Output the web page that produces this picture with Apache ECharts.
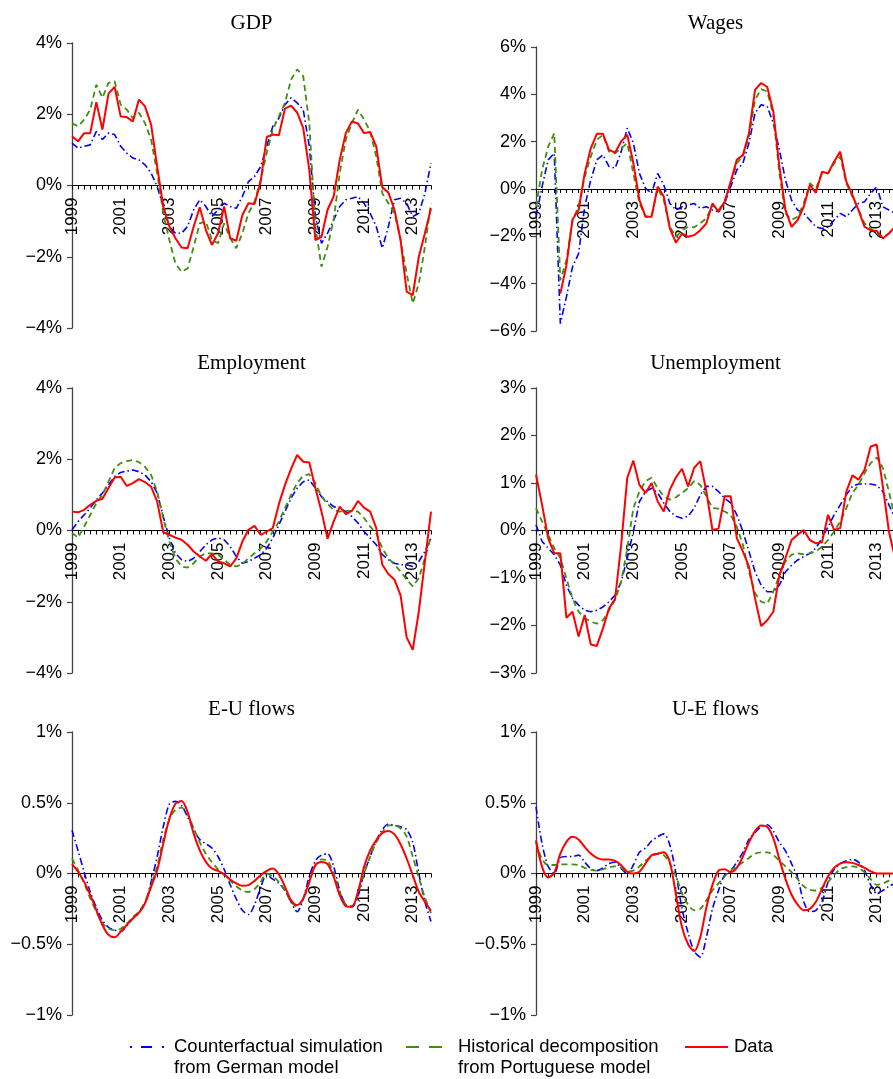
<!DOCTYPE html>
<html>
<head>
<meta charset="utf-8">
<script src="https://cdn.jsdelivr.net/npm/echarts@6/dist/echarts.min.js"></script>
<style>
  html, body { margin: 0; padding: 0; background: #ffffff; }
  #chart { width: 893px; height: 1079px; }
</style>
</head>
<body>
<div id="chart"></div>
<script>
// Quarterly observations, 1999Q1 to 2013Q4
const years = [1999, 2000, 2001, 2002, 2003, 2004, 2005, 2006, 2007, 2008, 2009, 2010, 2011, 2012, 2013];
const quarters = [];
years.forEach(y => ['Q1', 'Q2', 'Q3', 'Q4'].forEach(q => quarters.push(y + q)));

// Y-axis tick values (percent) for each panel
const gdpTicks = [-4, -2, 0, 2, 4];
const wagesTicks = [-6, -4, -2, 0, 2, 4, 6];
const employmentTicks = [-4, -2, 0, 2, 4];
const unemploymentTicks = [-3, -2, -1, 0, 1, 2, 3];
const euTicks = [-1, -0.5, 0, 0.5, 1];
const ueTicks = [-1, -0.5, 0, 0.5, 1];

// GDP
const gdpCounterfactual = [1.19,1.05,1.10,1.14,1.52,1.29,1.47,1.43,1.10,0.91,0.77,0.72,0.58,0.35,-0.03,-0.59,-1.15,-1.34,-1.34,-1.15,-0.68,-0.40,-0.59,-0.87,-0.68,-0.50,-0.59,-0.64,-0.31,0.11,0.25,0.53,1.10,1.66,1.89,2.27,2.46,2.32,2.13,1.10,-0.87,-1.62,-1.34,-0.97,-0.59,-0.40,-0.36,-0.31,-0.50,-0.78,-1.15,-1.76,-1.15,-0.40,-0.36,-0.50,-0.87,-0.78,-0.22,0.63];
const gdpHistorical = [1.75,1.66,1.85,2.13,2.83,2.46,2.88,2.93,2.27,2.13,1.89,2.04,1.75,1.29,0.35,-0.78,-1.53,-2.19,-2.42,-2.33,-1.72,-1.06,-1.01,-1.53,-1.62,-1.06,-1.48,-1.76,-1.34,-0.78,-0.45,0.16,0.91,1.57,1.94,2.32,2.97,3.26,3.07,1.75,-1.15,-2.28,-1.72,-0.97,0.35,1.29,1.75,2.13,1.85,1.52,0.82,-0.22,-0.50,-0.78,-1.53,-2.47,-3.31,-2.75,-1.72,-0.50];
const gdpData = [1.38,1.24,1.47,1.47,2.34,1.57,2.58,2.77,1.94,1.92,1.80,2.41,2.22,1.71,0.53,-0.59,-1.15,-1.48,-1.74,-1.76,-1.15,-0.61,-1.25,-1.67,-1.34,-0.59,-1.48,-1.55,-0.83,-0.50,-0.52,0.10,1.36,1.43,1.41,2.16,2.24,2.05,1.61,0.44,-1.53,-1.44,-0.68,-0.31,0.72,1.47,1.80,1.74,1.47,1.50,1.10,-0.05,-0.20,-0.68,-1.53,-2.98,-3.08,-2.00,-1.34,-0.64];

// Wages
const wagesCounterfactual = [-1.17,0.10,1.23,1.51,-5.69,-4.56,-3.29,-2.73,-0.75,0.38,1.23,1.44,0.95,0.88,1.58,2.57,1.94,0.66,0.03,-0.18,0.66,0.17,-0.61,-0.89,-0.75,-0.68,-0.61,-0.82,-0.75,-0.89,-0.96,-0.61,0.10,0.80,1.09,1.94,3.21,3.56,3.49,2.78,1.65,0.38,-0.47,-0.89,-1.03,-1.31,-1.60,-1.67,-1.60,-1.31,-1.03,-1.17,-0.89,-0.61,-0.54,-0.18,0.10,-0.75,-0.89,-1.03];
const wagesHistorical = [-0.75,0.80,1.79,2.36,-3.86,-3.01,-1.31,-0.75,0.52,1.37,2.08,2.29,1.58,1.51,1.72,1.94,0.66,-0.61,-1.17,-1.14,0.03,-0.47,-1.60,-2.02,-1.74,-1.60,-1.62,-1.45,-1.24,-0.68,-0.89,-0.54,0.24,1.09,1.37,2.22,3.77,4.22,4.12,3.14,0.66,-1.03,-1.31,-1.17,-0.61,0.24,0.03,0.66,0.66,1.09,1.37,0.24,-0.32,-0.89,-1.45,-1.67,-1.88,-2.02,-1.88,-1.60];
const wagesData = [null,null,null,null,-4.42,-3.22,-1.29,-0.89,0.66,1.72,2.33,2.33,1.65,1.54,2.01,2.29,1.09,-0.47,-1.17,-1.17,0.10,-0.32,-1.67,-2.27,-1.88,-2.02,-1.95,-1.74,-1.45,-0.61,-0.96,-0.54,0.31,1.23,1.44,2.36,4.19,4.48,4.31,3.28,0.95,-0.89,-1.60,-1.31,-0.75,0.17,-0.16,0.73,0.66,1.16,1.58,0.31,-0.25,-0.89,-1.60,-1.74,-1.77,-2.09,-1.88,-1.60];

// Employment
const employmentCounterfactual = [0.02,0.25,0.44,0.63,0.86,1.05,1.28,1.51,1.63,1.67,1.70,1.65,1.56,1.37,1.05,0.39,-0.21,-0.64,-0.82,-0.87,-0.78,-0.59,-0.40,-0.26,-0.21,-0.26,-0.45,-0.73,-0.92,-0.87,-0.78,-0.68,-0.50,-0.21,0.16,0.53,0.91,1.19,1.37,1.42,1.19,0.95,0.81,0.67,0.63,0.53,0.39,0.21,-0.03,-0.21,-0.40,-0.68,-0.82,-0.92,-0.96,-0.96,-1.01,-0.87,-0.59,-0.21];
const employmentHistorical = [-0.07,-0.20,0.11,0.44,0.77,1.00,1.37,1.75,1.89,1.95,1.98,1.92,1.79,1.56,1.09,0.35,-0.31,-0.78,-1.01,-1.04,-0.92,-0.73,-0.64,-0.64,-0.68,-0.82,-0.96,-1.01,-0.94,-0.78,-0.64,-0.50,-0.31,-0.03,0.25,0.63,1.00,1.33,1.54,1.58,1.33,0.95,0.74,0.58,0.53,0.55,0.55,0.53,0.35,0.11,-0.07,-0.50,-0.78,-0.96,-1.15,-1.38,-1.57,-1.34,-0.78,-0.17];
const employmentData = [0.53,0.51,0.58,0.72,0.83,0.89,1.19,1.49,1.51,1.25,1.33,1.44,1.36,1.23,0.81,-0.05,-0.12,-0.20,-0.26,-0.40,-0.59,-0.73,-0.85,-0.66,-0.87,-0.92,-1.01,-0.78,-0.31,0.02,0.13,-0.12,-0.03,0.07,0.74,1.28,1.73,2.12,1.93,1.91,1.19,0.53,-0.23,0.25,0.67,0.46,0.55,0.83,0.64,0.53,0.07,-0.96,-1.22,-1.38,-1.82,-3.00,-3.35,-2.27,-0.87,0.53];

// Unemployment
const unemploymentCounterfactual = [0.12,-0.23,-0.37,-0.51,-0.73,-1.15,-1.43,-1.57,-1.68,-1.71,-1.68,-1.61,-1.50,-1.36,-1.08,-0.58,-0.02,0.61,0.82,0.89,0.79,0.58,0.40,0.30,0.26,0.30,0.47,0.75,0.93,0.93,0.82,0.68,0.58,0.33,-0.02,-0.44,-0.87,-1.15,-1.29,-1.29,-1.15,-0.87,-0.73,-0.62,-0.55,-0.48,-0.37,-0.16,0.08,0.33,0.54,0.75,0.93,0.98,0.98,0.98,0.95,0.82,0.54,0.26];
const unemploymentHistorical = [0.47,0.19,-0.09,-0.37,-0.58,-1.01,-1.43,-1.71,-1.84,-1.92,-1.96,-1.89,-1.68,-1.46,-1.08,-0.37,0.47,0.82,1.04,1.11,0.89,0.72,0.65,0.70,0.79,0.89,1.04,0.96,0.72,0.47,0.46,0.40,0.33,0.08,-0.30,-0.87,-1.32,-1.50,-1.54,-1.29,-0.94,-0.65,-0.51,-0.48,-0.50,-0.48,-0.44,-0.34,-0.20,-0.02,0.19,0.47,0.79,0.96,1.21,1.42,1.54,1.32,0.82,0.26];
const unemploymentData = [1.18,0.54,-0.16,-0.48,-0.48,-1.84,-1.71,-2.23,-1.78,-2.40,-2.43,-2.06,-1.64,-1.44,-0.30,1.11,1.47,0.96,0.79,1.00,0.61,0.40,0.86,1.12,1.30,0.93,1.32,1.46,0.82,0.01,0.04,0.72,0.72,-0.16,-0.44,-0.76,-1.43,-2.01,-1.89,-1.71,-0.94,-0.58,-0.20,-0.09,0.01,-0.20,-0.27,-0.25,0.33,0.01,0.05,0.82,1.16,1.07,1.28,1.77,1.81,0.93,-0.02,-0.58];

// Employment-to-unemployment flows
const euCounterfactual = [0.305,0.16,0.01,-0.13,-0.24,-0.33,-0.38,-0.40,-0.41,-0.37,-0.32,-0.28,-0.21,-0.06,0.12,0.33,0.49,0.51,0.48,0.40,0.31,0.24,0.21,0.18,0.12,0.03,-0.08,-0.18,-0.26,-0.29,-0.22,-0.10,-0.01,-0.04,-0.07,-0.12,-0.20,-0.27,-0.18,-0.02,0.09,0.13,0.14,0.05,-0.12,-0.22,-0.235,-0.16,0.0,0.12,0.23,0.31,0.35,0.34,0.33,0.31,0.22,0.0,-0.20,-0.34];
const euHistorical = [0.106,0.023,-0.07,-0.176,-0.27,-0.35,-0.39,-0.40,-0.39,-0.355,-0.31,-0.27,-0.20,-0.08,0.05,0.24,0.38,0.45,0.465,0.42,0.32,0.22,0.14,0.08,0.03,-0.01,-0.05,-0.09,-0.12,-0.13,-0.11,-0.06,0.0,-0.02,-0.06,-0.12,-0.20,-0.235,-0.18,-0.06,0.06,0.10,0.09,0.0,-0.13,-0.22,-0.23,-0.14,0.0,0.12,0.22,0.29,0.34,0.34,0.32,0.26,0.12,-0.03,-0.17,-0.28];
const euData = [0.066,0.012,-0.059,-0.153,-0.258,-0.364,-0.434,-0.451,-0.411,-0.364,-0.317,-0.277,-0.211,-0.094,0.023,0.211,0.387,0.493,0.512,0.434,0.282,0.164,0.082,0.035,0.019,-0.005,-0.042,-0.070,-0.087,-0.082,-0.052,-0.012,0.019,0.035,-0.005,-0.094,-0.188,-0.223,-0.176,-0.059,0.059,0.082,0.066,-0.023,-0.153,-0.230,-0.235,-0.129,0.047,0.164,0.235,0.286,0.300,0.277,0.207,0.106,-0.012,-0.129,-0.200,-0.263];

// Unemployment-to-employment flows
const ueCounterfactual = [0.47,0.21,0.05,0.0,0.11,0.12,0.12,0.13,0.08,0.035,0.02,0.04,0.07,0.08,0.035,0.0,0.06,0.15,0.18,0.23,0.26,0.28,0.20,0.0,-0.25,-0.42,-0.55,-0.59,-0.45,-0.25,-0.12,-0.01,0.02,0.08,0.15,0.24,0.29,0.33,0.345,0.30,0.22,0.16,0.07,-0.03,-0.20,-0.27,-0.26,-0.20,-0.06,0.03,0.07,0.09,0.10,0.08,0.02,-0.08,-0.14,-0.12,-0.09,-0.07];
const ueHistorical = [0.22,0.10,0.06,0.06,0.065,0.065,0.065,0.06,0.04,0.025,0.02,0.03,0.045,0.05,0.04,0.015,0.02,0.05,0.09,0.12,0.14,0.13,0.07,-0.02,-0.14,-0.22,-0.26,-0.25,-0.19,-0.12,-0.07,-0.02,0.02,0.05,0.08,0.11,0.14,0.15,0.15,0.13,0.09,0.05,0.01,-0.04,-0.09,-0.115,-0.12,-0.10,-0.06,-0.01,0.03,0.045,0.05,0.04,0.01,-0.04,-0.08,-0.07,-0.05,-0.035];
const ueData = [0.235,0.047,-0.028,0.005,0.14,0.224,0.259,0.24,0.188,0.141,0.111,0.099,0.099,0.089,0.059,0.012,0.0,0.012,0.071,0.129,0.14,0.15,0.08,-0.15,-0.38,-0.50,-0.55,-0.45,-0.24,-0.08,0.02,0.03,0.01,0.04,0.12,0.22,0.30,0.34,0.33,0.25,0.10,-0.04,-0.15,-0.22,-0.26,-0.25,-0.20,-0.11,-0.02,0.04,0.07,0.08,0.075,0.06,0.04,0.015,0.0,0.0,0.0,0.0];

const seriesNames = [
  'Counterfactual simulation from German model',
  'Historical decomposition from Portuguese model',
  'Data'
];

const panels = [
  { title: 'GDP',          ticks: gdpTicks,          lines: [gdpCounterfactual, gdpHistorical, gdpData],                            smooth: false },
  { title: 'Wages',        ticks: wagesTicks,        lines: [wagesCounterfactual, wagesHistorical, wagesData],                      smooth: false },
  { title: 'Employment',   ticks: employmentTicks,   lines: [employmentCounterfactual, employmentHistorical, employmentData],       smooth: false },
  { title: 'Unemployment', ticks: unemploymentTicks, lines: [unemploymentCounterfactual, unemploymentHistorical, unemploymentData], smooth: false },
  { title: 'E-U flows',    ticks: euTicks,           lines: [euCounterfactual, euHistorical, euData],                               smooth: 0.3 },
  { title: 'U-E flows',    ticks: ueTicks,           lines: [ueCounterfactual, ueHistorical, ueData],                               smooth: 0.3 }
];

// Panel placement (pixels)
const PLOT_W = 359;
const layouts = [
  { left: 72,  top: 43,  height: 285, titleY: 23 },
  { left: 536, top: 47,  height: 284, titleY: 23 },
  { left: 72,  top: 388, height: 285, titleY: 363 },
  { left: 536, top: 388, height: 285, titleY: 363 },
  { left: 72,  top: 732, height: 283, titleY: 709 },
  { left: 536, top: 732, height: 283, titleY: 709 }
];

const BLUE = '#0000ff';
const GREEN = '#3f8f0f';
const RED = '#ff0000';
const SANS = '"Liberation Sans", Arial, Helvetica, sans-serif';
const SERIF = '"Liberation Serif", "Times New Roman", serif';

const lineStyles = [
  { color: BLUE,  width: 1.6, type: [7, 3, 1.5, 3] },
  { color: GREEN, width: 1.8, type: [6, 4] },
  { color: RED,   width: 2.0, type: 'solid' }
];

const pct = v => (v < 0 ? '\u2212' : '') + Math.abs(v) + '%';

const grid = [], xAxis = [], yAxis = [], series = [], graphic = [];

panels.forEach((p, k) => {
  const L = layouts[k];
  const yMin = p.ticks[0], yMax = p.ticks[p.ticks.length - 1];
  // lift the time axis (line, ticks and year labels) from the grid bottom up to the 0% level
  const zeroLift = (0 - yMin) / (yMax - yMin) * L.height;
  grid.push({ left: L.left, top: L.top, width: PLOT_W, height: L.height, containLabel: false, outerBoundsMode: 'none' });
  xAxis.push({
    type: 'category', gridIndex: k, data: quarters, boundaryGap: false,
    position: 'bottom', offset: -zeroLift,
    axisLine: { onZero: false, lineStyle: { color: '#000', width: 1.2 } },
    axisTick: { show: true, interval: 0, length: 4, lineStyle: { color: '#000', width: 1 } },
    axisLabel: {
      interval: 7, rotate: 90, margin: 12, fontSize: 17, fontFamily: SANS, color: '#000',
      formatter: v => v.slice(0, 4)
    },
    splitLine: { show: false }
  });
  yAxis.push({
    type: 'value', gridIndex: k,
    min: yMin, max: yMax, interval: p.ticks[1] - p.ticks[0],
    axisLine: { show: true, onZero: false, lineStyle: { color: '#444', width: 1.3 } },
    axisTick: { show: true, length: 5, lineStyle: { color: '#444', width: 1.2 } },
    axisLabel: { margin: 10, fontSize: 18, fontFamily: SANS, color: '#000', formatter: pct },
    splitLine: { show: false }
  });
  p.lines.forEach((vals, s) => {
    series.push({
      name: seriesNames[s], type: 'line', xAxisIndex: k, yAxisIndex: k,
      data: vals, showSymbol: false, symbol: 'none', smooth: p.smooth,
      connectNulls: false, lineStyle: lineStyles[s], z: 2 + s, silent: true
    });
  });
  graphic.push({
    type: 'text', x: L.left + PLOT_W / 2, y: L.titleY,
    style: { text: p.title, font: '21px ' + SERIF, fill: '#000', align: 'center', verticalAlign: 'middle' }
  });
});

// Legend row at the bottom
const legendY = 1047;
const legendItems = [
  { x1: 130, x2: 166, dash: [2, 9, 11, 10, 2, 60], stroke: BLUE,  width: 2.2, textX: 174, text: 'Counterfactual simulation\nfrom German model' },
  { x1: 406, x2: 442, dash: [13, 10, 13, 60],      stroke: GREEN, width: 2.2, textX: 458, text: 'Historical decomposition\nfrom Portuguese model' },
  { x1: 685, x2: 728, dash: null,                  stroke: RED,   width: 2.2, textX: 734, text: 'Data' }
];
legendItems.forEach(it => {
  graphic.push({
    type: 'line', shape: { x1: it.x1, y1: legendY, x2: it.x2, y2: legendY },
    style: { stroke: it.stroke, lineWidth: it.width, lineDash: it.dash }
  });
  graphic.push({
    type: 'text', x: it.textX, y: legendY - 10.5,
    style: { text: it.text, font: '18.5px ' + SANS, fill: '#000', align: 'left', verticalAlign: 'top', lineHeight: 21 }
  });
});

const chart = echarts.init(document.getElementById('chart'), null, { renderer: 'canvas' });
chart.setOption({
  backgroundColor: '#ffffff',
  animation: false,
  grid, xAxis, yAxis, series, graphic
});
</script>
</body>
</html>
